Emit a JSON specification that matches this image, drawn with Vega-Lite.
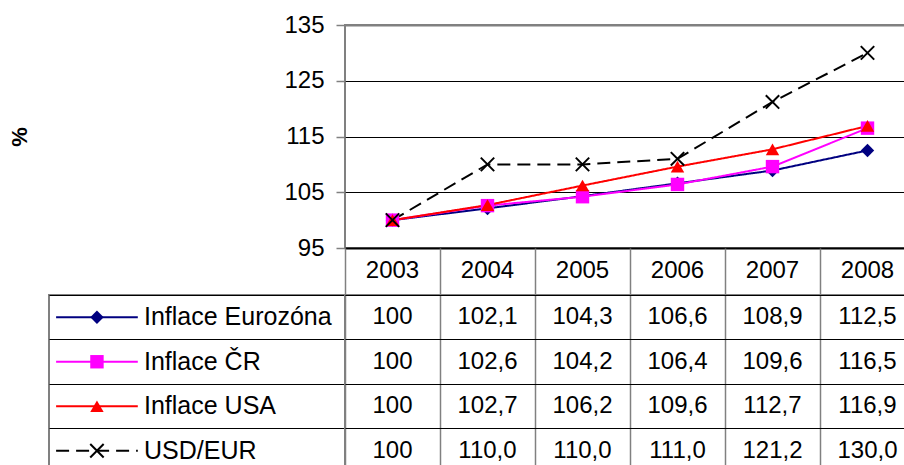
{
  "$schema": "https://vega.github.io/schema/vega-lite/v6.json",
  "padding": {"left": 7, "top": 12, "right": 0, "bottom": 0},
  "background": "white",
  "config": {
    "font": "Liberation Sans",
    "view": {"stroke": "#808080", "strokeWidth": 2}
  },
  "datasets": {
    "inflace": [
      {"series": "Inflace Eurozóna", "year": 2003, "value": 100},
      {"series": "Inflace Eurozóna", "year": 2004, "value": 102.1},
      {"series": "Inflace Eurozóna", "year": 2005, "value": 104.3},
      {"series": "Inflace Eurozóna", "year": 2006, "value": 106.6},
      {"series": "Inflace Eurozóna", "year": 2007, "value": 108.9},
      {"series": "Inflace Eurozóna", "year": 2008, "value": 112.5},
      {"series": "Inflace ČR", "year": 2003, "value": 100},
      {"series": "Inflace ČR", "year": 2004, "value": 102.6},
      {"series": "Inflace ČR", "year": 2005, "value": 104.2},
      {"series": "Inflace ČR", "year": 2006, "value": 106.4},
      {"series": "Inflace ČR", "year": 2007, "value": 109.6},
      {"series": "Inflace ČR", "year": 2008, "value": 116.5},
      {"series": "Inflace USA", "year": 2003, "value": 100},
      {"series": "Inflace USA", "year": 2004, "value": 102.7},
      {"series": "Inflace USA", "year": 2005, "value": 106.2},
      {"series": "Inflace USA", "year": 2006, "value": 109.6},
      {"series": "Inflace USA", "year": 2007, "value": 112.7},
      {"series": "Inflace USA", "year": 2008, "value": 116.9},
      {"series": "USD/EUR", "year": 2003, "value": 100},
      {"series": "USD/EUR", "year": 2004, "value": 110.0},
      {"series": "USD/EUR", "year": 2005, "value": 110.0},
      {"series": "USD/EUR", "year": 2006, "value": 111.0},
      {"series": "USD/EUR", "year": 2007, "value": 121.2},
      {"series": "USD/EUR", "year": 2008, "value": 130.0}
    ]
  },
  "columns": 2,
  "align": "each",
  "bounds": "flush",
  "spacing": {"row": 47, "column": 0},
  "concat": [
    {
      "width": 296,
      "height": 223,
      "view": {"stroke": null},
      "data": {"values": []},
      "mark": "point"
    },
    {
      "width": 570,
      "height": 223,
      "data": {"name": "inflace"},
      "encoding": {
        "x": {
          "field": "year", "type": "ordinal",
          "scale": {"type": "point", "padding": 0.5},
          "axis": {"labels": false, "ticks": false, "domain": true, "domainColor": "black", "domainWidth": 2, "title": null, "grid": false}
        },
        "y": {
          "field": "value", "type": "quantitative",
          "scale": {"domain": [95, 135], "zero": false, "nice": false},
          "axis": {
            "values": [95, 105, 115, 125, 135],
            "title": "%", "titleFontSize": 22, "titleFontWeight": "bold", "titleColor": "black", "titleX": -314,
            "labelFontSize": 24, "labelColor": "black", "labelPadding": 12,
            "tickSize": 9, "tickColor": "#808080", "tickWidth": 1.5,
            "domain": false,
            "grid": true,
            "gridColor": {"condition": {"test": "datum.value === 135", "value": "#808080"}, "value": "black"},
            "gridWidth": {"condition": {"test": "datum.value === 135", "value": 2}, "value": 1},
            "gridOpacity": 1
          }
        }
      },
      "layer": [
        {
          "mark": {"type": "line", "strokeWidth": 2},
          "encoding": {
            "color": {"field": "series", "type": "nominal", "legend": null,
              "scale": {"domain": ["Inflace Eurozóna", "Inflace ČR", "Inflace USA", "USD/EUR"], "range": ["#000080", "#FF00FF", "#FF0000", "#000000"]}},
            "strokeDash": {"field": "series", "type": "nominal", "legend": null,
              "scale": {"domain": ["Inflace Eurozóna", "Inflace ČR", "Inflace USA", "USD/EUR"], "range": [[1, 0], [1, 0], [1, 0], [13, 7]]}}
          }
        },
        {
          "mark": {"type": "point", "filled": true, "opacity": 1, "size": 180, "strokeWidth": 2},
          "encoding": {
            "shape": {"field": "series", "type": "nominal", "legend": null,
              "scale": {"domain": ["Inflace Eurozóna", "Inflace ČR", "Inflace USA", "USD/EUR"], "range": ["diamond", "square", "triangle-up", "M-1,-1L1,1M1,-1L-1,1"]}},
            "fill": {"field": "series", "type": "nominal", "legend": null,
              "scale": {"domain": ["Inflace Eurozóna", "Inflace ČR", "Inflace USA", "USD/EUR"], "range": ["#000080", "#FF00FF", "#FF0000", "#000000"]}},
            "stroke": {"field": "series", "type": "nominal", "legend": null,
              "scale": {"domain": ["Inflace Eurozóna", "Inflace ČR", "Inflace USA", "USD/EUR"], "range": ["transparent", "transparent", "transparent", "#000000"]}}
          }
        }
      ]
    },
    {
      "width": 296,
      "height": 178,
      "data": {"name": "inflace"},
      "transform": [{"filter": "datum.year === 2003"}],
      "encoding": {
        "y": {
          "field": "series", "type": "nominal",
          "scale": {"type": "band", "domain": ["Inflace Eurozóna", "Inflace ČR", "Inflace USA", "USD/EUR"], "paddingInner": 0, "paddingOuter": 0},
          "axis": {"labels": false, "ticks": false, "domain": false, "title": null, "grid": true, "gridColor": "black", "gridWidth": 1, "gridOpacity": 1, "bandPosition": 0}
        }
      },
      "layer": [
        {
          "mark": {"type": "rule", "strokeWidth": 2},
          "encoding": {
            "x": {"datum": 2.4, "type": "quantitative", "scale": {"domain": [0, 100], "nice": false, "zero": false}, "axis": null},
            "x2": {"datum": 30},
            "color": {"field": "series", "type": "nominal", "legend": null},
            "strokeDash": {"field": "series", "type": "nominal", "legend": null}
          }
        },
        {
          "mark": {"type": "point", "filled": true, "opacity": 1, "size": 180, "strokeWidth": 2},
          "encoding": {
            "x": {"datum": 16.2, "type": "quantitative"},
            "shape": {"field": "series", "type": "nominal", "legend": null},
            "fill": {"field": "series", "type": "nominal", "legend": null},
            "stroke": {"field": "series", "type": "nominal", "legend": null}
          }
        },
        {
          "mark": {"type": "text", "align": "left", "baseline": "middle", "fontSize": 25, "color": "black"},
          "encoding": {
            "x": {"datum": 32.1, "type": "quantitative"},
            "text": {"field": "series"}
          }
        }
      ]
    },
    {
      "width": 570,
      "height": 178,
      "data": {"name": "inflace"},
      "transform": [
        {"calculate": "datum.year === 2003 ? format(datum.value, 'd') : replace(format(datum.value, '.1f'), '.', ',')", "as": "label"}
      ],
      "mark": {"type": "text", "fontSize": 24, "baseline": "middle", "align": "center", "color": "black"},
      "encoding": {
        "x": {
          "field": "year", "type": "ordinal",
          "scale": {"type": "band", "paddingInner": 0, "paddingOuter": 0},
          "axis": {
            "orient": "top", "title": null, "labelAngle": 0,
            "labelFontSize": 24, "labelColor": "black", "labelBaseline": "middle",
            "bandPosition": 0, "labelPadding": -22,
            "ticks": true, "tickSize": 47, "tickColor": "#808080", "tickWidth": 1.5,
            "domain": true, "domainColor": "black", "domainWidth": 1,
            "grid": true, "gridColor": "#808080", "gridWidth": 1.5, "gridOpacity": 1
          }
        },
        "y": {
          "field": "series", "type": "nominal",
          "scale": {"type": "band", "domain": ["Inflace Eurozóna", "Inflace ČR", "Inflace USA", "USD/EUR"], "paddingInner": 0, "paddingOuter": 0},
          "axis": {"labels": false, "ticks": false, "domain": false, "title": null, "grid": true, "gridColor": "black", "gridWidth": 1, "gridOpacity": 1, "bandPosition": 0}
        },
        "text": {"field": "label"}
      }
    }
  ]
}
